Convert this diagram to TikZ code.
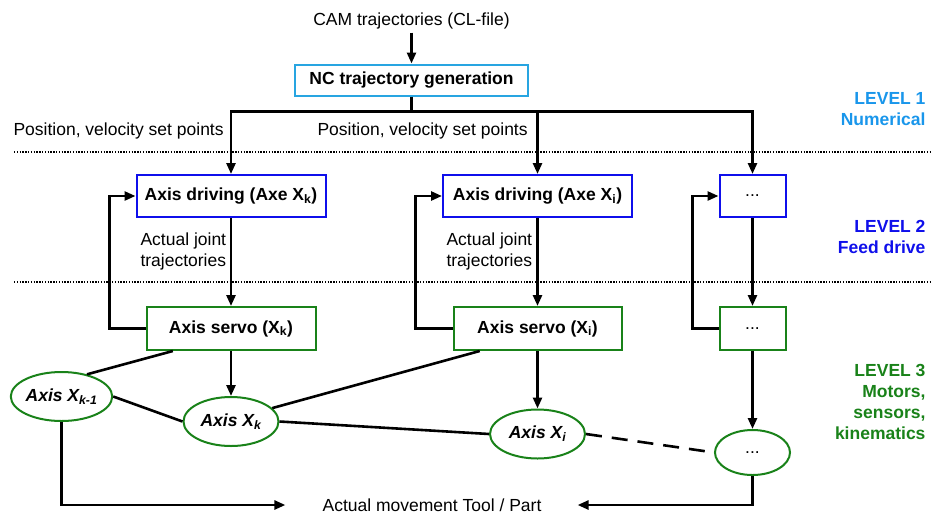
\documentclass[tikz,border=0pt]{standalone}
\usepackage{fontspec}
\setmainfont{Liberation Sans}
\usetikzlibrary{arrows.meta,shapes.geometric,calc}
\definecolor{lvlone}{RGB}{25,150,235}
\definecolor{ncblue}{RGB}{40,165,225}
\definecolor{fdblue}{RGB}{15,15,235}
\definecolor{mgreen}{RGB}{25,130,25}
\begin{document}
\begin{tikzpicture}[x=1pt,y=-1pt,
  font=\fontsize{17.5}{21}\selectfont,
  conn/.style={line width=2.6pt},
  arr/.style={line width=2.6pt,-{Triangle[length=11pt,width=9pt]}},
  box/.style={draw,line width=2pt,fill=white,minimum height=42pt,inner sep=0pt,
    font=\fontsize{17.5}{21}\selectfont\bfseries},
  ell/.style={draw=mgreen,ellipse,line width=2pt,fill=white,inner sep=0pt,
    minimum width=95pt,minimum height=49pt,
    font=\fontsize{17.5}{21}\selectfont\bfseries\itshape},
  lvl/.style={anchor=east,align=right,font=\fontsize{17.5}{21}\selectfont\bfseries},
  sep/.style={line width=1.2pt,dash pattern=on 1.4pt off 1.4pt}
]
\useasboundingbox (0,0) rectangle (932,515);

% separators
\draw[sep] (14,152) -- (932,152);
\draw[sep] (14,282) -- (932,282);

% level 1
\node (cam) at (411.5,21) {CAM trajectories (CL-file)};
\node[box,draw=ncblue,minimum width=233pt,minimum height=31pt] (nc) at (411.5,80) {NC trajectory generation};

% level 2
\node[box,draw=fdblue,minimum width=189pt] (drvK) at (231,196) {Axis driving (Axe X\textsubscript{k})};
\node[box,draw=fdblue,minimum width=189pt] (drvI) at (537.5,196) {Axis driving (Axe X\textsubscript{i})};
\node[box,draw=fdblue,minimum width=66pt] (drvD) at (752.5,196) {\mdseries ...};

% level 3 servos
\node[box,draw=mgreen,minimum width=169pt,minimum height=43pt] (srvK) at (231,328.5) {Axis servo (X\textsubscript{k})};
\node[box,draw=mgreen,minimum width=168pt,minimum height=43pt] (srvI) at (537.5,328.5) {Axis servo (X\textsubscript{i})};
\node[box,draw=mgreen,minimum width=66pt,minimum height=43pt] (srvD) at (752.5,328.5) {\mdseries ...};

% axes
\node[ell] (eKm1) at (61.5,396.5) {Axis X\textsubscript{k-1}};
\node[ell] (eK) at (231,421.5) {Axis X\textsubscript{k}};
\node[ell] (eI) at (537.5,434) {Axis X\textsubscript{i}};
\node[ell,minimum width=75pt,minimum height=45pt] (eD) at (752.5,452.5) {\mdseries\upshape ...};

% texts
\node[anchor=west] (pv1) at (10,131) {Position, velocity set points};
\node[anchor=west] (pv2) at (314,131) {Position, velocity set points};
\node[anchor=west,align=left] (aj1) at (137,251) {Actual joint\\trajectories};
\node[anchor=west,align=left] (aj2) at (443,251) {Actual joint\\trajectories};
\node[inner sep=0pt] (mv) at (432,505) {Actual movement Tool / Part};

\node[lvl,text=lvlone] (l1) at (929,108.7) {LEVEL 1\\Numerical};
\node[lvl,text=fdblue] (l2) at (929,237.3) {LEVEL 2\\Feed drive};
\node[lvl,text=mgreen] (l3) at (929,401.7) {LEVEL 3\\Motors,\\sensors,\\kinematics};

% connectors
\draw[arr] (cam.south) -- (nc.north);
\draw[conn] (nc.south) -- ++(0,15) coordinate (split);
\draw[arr] (split) -| (drvK.north);
\draw[arr] (split) -| (drvI.north);
\draw[arr] (split) -| (drvD.north);

\draw[arr] (drvK.south) -- (srvK.north);
\draw[arr] (drvI.south) -- (srvI.north);
\draw[arr] (drvD.south) -- (srvD.north);

\draw[arr] (srvK.west) -- ++(-36,0) |- (drvK.west);
\draw[arr] (srvI.west) -- ++(-37,0) |- (drvI.west);
\draw[arr] (srvD.west) -- ++(-26,0) |- (drvD.west);

\draw[arr] (srvK.south) -- (eK.north);
\draw[arr] (srvI.south) -- (eI.north);
\draw[arr] (srvD.south) -- (eD.north);

\draw[conn] ($(srvK.south west)!0.16!(srvK.south east)$) -- (eKm1.41);
\draw[conn] ($(srvI.south west)!0.16!(srvI.south east)$) -- (eK.18);
\draw[conn] (eKm1.east) -- (eK.west);
\draw[conn] (eK.east) -- (eI.west);
\draw[conn,dash pattern=on 16pt off 10pt] (eI.east) -- (eD.west);

\draw[arr,shorten >=37pt] (eKm1.south) |- (mv.west);
\draw[arr,shorten >=36pt] (eD.south) |- (mv.east);
\end{tikzpicture}
\end{document}
